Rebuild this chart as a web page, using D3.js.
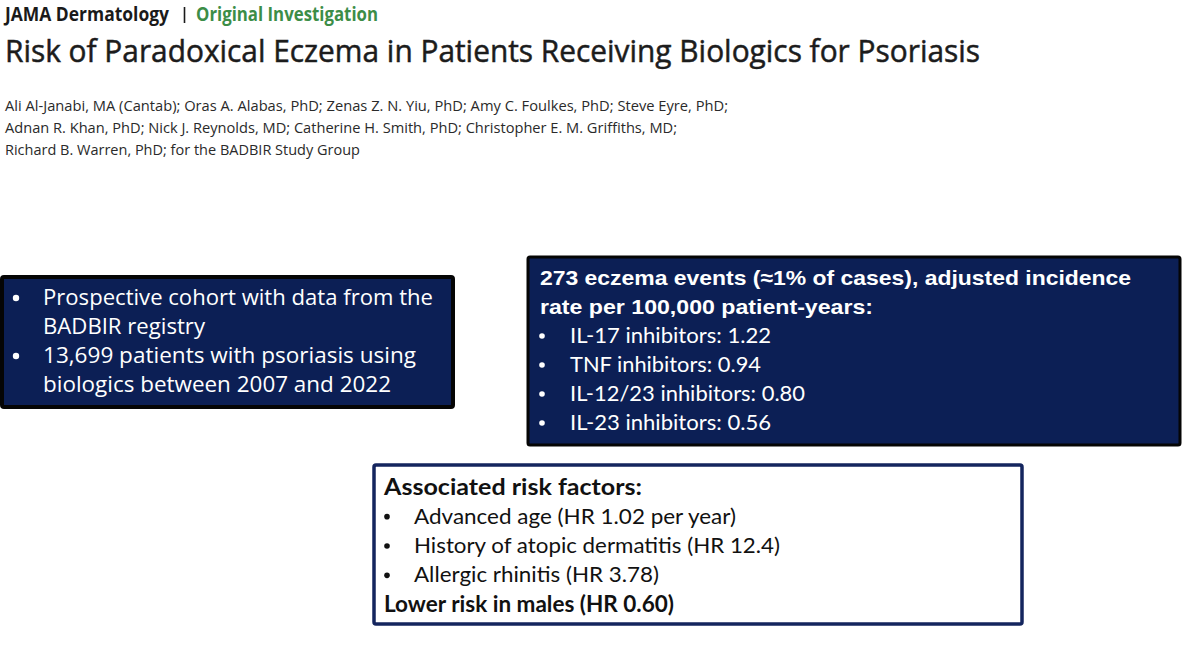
<!DOCTYPE html>
<html>
<head>
<meta charset="utf-8">
<script src="https://cdn.jsdelivr.net/npm/d3@7"></script>
<style>
  html, body { margin: 0; padding: 0; background: #fff; }
  svg { display: block; }
</style>
</head>
<body>
<div id="chart"></div>
<script>
// journal header
var journal = "JAMA Dermatology";
var section = "Original Investigation";
var title = "Risk of Paradoxical Eczema in Patients Receiving Biologics for Psoriasis";
var authors = [
  "Ali Al-Janabi, MA (Cantab); Oras A. Alabas, PhD; Zenas Z. N. Yiu, PhD; Amy C. Foulkes, PhD; Steve Eyre, PhD;",
  "Adnan R. Khan, PhD; Nick J. Reynolds, MD; Catherine H. Smith, PhD; Christopher E. M. Griffiths, MD;",
  "Richard B. Warren, PhD; for the BADBIR Study Group"
];

// study design box
var designLines = [
  { bullet: true,  text: "Prospective cohort with data from the" },
  { bullet: false, text: "BADBIR registry" },
  { bullet: true,  text: "13,699 patients with psoriasis using" },
  { bullet: false, text: "biologics between 2007 and 2022" }
];

// incidence box
var incidenceHeader = [
  "273 eczema events (\u22481% of cases), adjusted incidence",
  "rate per 100,000 patient-years:"
];
var drugClasses = ["IL-17 inhibitors", "TNF inhibitors", "IL-12/23 inhibitors", "IL-23 inhibitors"];
var incidenceRates = [1.22, 0.94, 0.80, 0.56];

// risk factor box
var riskHeader = "Associated risk factors:";
var riskFactors = ["Advanced age", "History of atopic dermatitis", "Allergic rhinitis"];
var riskHR = ["1.02 per year", "12.4", "3.78"];
var lowerRisk = { group: "males", hr: "0.60" };

var W = 1200, H = 652;
var navy = "#0c1f55";

var svg = d3.select("#chart").append("svg")
    .attr("width", W)
    .attr("height", H);

// squeeze / stretch a line so it ends where the reference does
function span(sel, w) {
  sel.attr("textLength", w).attr("lengthAdjust", "spacingAndGlyphs");
}

// ---- header ----
var head = svg.append("g").attr("font-family", "'Open Sans', sans-serif");
head.append("text")
    .attr("x", 5).attr("y", 21)
    .attr("font-size", 19).attr("font-weight", 700)
    .attr("fill", "#1a1a1a")
    .text(journal)
    .call(span, 164);
head.append("line")
    .attr("x1", 184.5).attr("x2", 184.5)
    .attr("y1", 7).attr("y2", 23)
    .attr("stroke", "#1a1a1a").attr("stroke-width", 1.6);
head.append("text")
    .attr("x", 196).attr("y", 21)
    .attr("font-size", 19).attr("font-weight", 700)
    .attr("fill", "#3c8d47")
    .text(section)
    .call(span, 182);

head.append("text")
    .attr("x", 5).attr("y", 62)
    .attr("font-size", 31)
    .attr("fill", "#1c1c1c")
    .attr("stroke", "#1c1c1c").attr("stroke-width", 0.5)
    .text(title)
    .call(span, 975);

var authorW = [723, 672, 355];
head.selectAll("text.author")
  .data(authors)
  .enter().append("text")
    .attr("class", "author")
    .attr("x", 5)
    .attr("y", function(d, i) { return 111 + i * 22; })
    .attr("font-size", 15)
    .attr("fill", "#2a2a2a")
    .text(function(d) { return d; })
    .each(function(d, i) { d3.select(this).call(span, authorW[i]); });

// ---- box 1: design ----
var b1 = svg.append("g");
b1.append("rect")
    .attr("x", 2).attr("y", 277)
    .attr("width", 451).attr("height", 130)
    .attr("rx", 2)
    .attr("fill", navy)
    .attr("stroke", "#050505").attr("stroke-width", 4);

var rows1 = b1.selectAll("g.row")
  .data(designLines)
  .enter().append("g")
    .attr("class", "row")
    .attr("transform", function(d, i) { return "translate(0," + (305 + i * 29) + ")"; });
rows1.filter(function(d) { return d.bullet; })
  .append("circle")
    .attr("cx", 16).attr("cy", -7).attr("r", 3.2)
    .attr("fill", "#fff");
var design1W = [390, 162, 373, 348];
rows1.append("text")
    .attr("x", 43)
    .attr("font-family", "'Open Sans', sans-serif")
    .attr("font-size", 21)
    .attr("fill", "#fff")
    .text(function(d) { return d.text; })
    .each(function(d, i) { d3.select(this).call(span, design1W[i]); });

// ---- box 2: incidence ----
var b2 = svg.append("g");
b2.append("rect")
    .attr("x", 528).attr("y", 257)
    .attr("width", 652).attr("height", 188)
    .attr("rx", 2)
    .attr("fill", navy)
    .attr("stroke", "#050505").attr("stroke-width", 3);

var headW = [591, 333];
b2.selectAll("text.hdr")
  .data(incidenceHeader)
  .enter().append("text")
    .attr("class", "hdr")
    .attr("x", 540)
    .attr("y", function(d, i) { return 285 + i * 29; })
    .attr("font-family", "'Liberation Sans', Arial, sans-serif")
    .attr("font-size", 21).attr("font-weight", 700)
    .attr("fill", "#fff")
    .text(function(d) { return d; })
    .each(function(d, i) { d3.select(this).call(span, headW[i]); });

var yInc = d3.scaleBand()
    .domain(drugClasses)
    .range([321.5, 437.5]);

var rows2 = b2.selectAll("g.drug")
  .data(drugClasses)
  .enter().append("g")
    .attr("class", "drug")
    .attr("transform", function(d) { return "translate(0," + (yInc(d) + yInc.bandwidth() / 2 + 7) + ")"; });
rows2.append("circle")
    .attr("cx", 542).attr("cy", -7).attr("r", 2.8)
    .attr("fill", "#fff");
var drugW = [201, 191, 235, 201];
rows2.append("text")
    .attr("x", 570)
    .attr("font-family", "Lato, sans-serif")
    .attr("font-size", 22)
    .attr("fill", "#fff")
    .text(function(d, i) { return d + ": " + d3.format(".2f")(incidenceRates[i]); })
    .each(function(d, i) { d3.select(this).call(span, drugW[i]); });

// ---- box 3: risk factors ----
var b3 = svg.append("g");
b3.append("rect")
    .attr("x", 374).attr("y", 465)
    .attr("width", 648).attr("height", 159)
    .attr("rx", 2)
    .attr("fill", "#fff")
    .attr("stroke", "#14255e").attr("stroke-width", 3.5);

b3.append("text")
    .attr("x", 384).attr("y", 495)
    .attr("font-family", "Lato, sans-serif")
    .attr("font-size", 22).attr("font-weight", 700)
    .attr("fill", "#111")
    .text(riskHeader)
    .call(span, 258);

var yRisk = d3.scaleBand()
    .domain(riskFactors)
    .range([502, 590]);

var rows3 = b3.selectAll("g.risk")
  .data(riskFactors)
  .enter().append("g")
    .attr("class", "risk")
    .attr("transform", function(d) { return "translate(0," + (yRisk(d) + yRisk.bandwidth() / 2 + 7) + ")"; });
rows3.append("circle")
    .attr("cx", 387).attr("cy", -7).attr("r", 2.8)
    .attr("fill", "#111");
var riskW = [322, 366, 245];
rows3.append("text")
    .attr("x", 414)
    .attr("font-family", "Lato, sans-serif")
    .attr("font-size", 22)
    .attr("fill", "#111")
    .text(function(d, i) { return d + " (HR " + riskHR[i] + ")"; })
    .each(function(d, i) { d3.select(this).call(span, riskW[i]); });

b3.append("text")
    .attr("x", 384).attr("y", 612)
    .attr("font-family", "Lato, sans-serif")
    .attr("font-size", 22).attr("font-weight", 700)
    .attr("fill", "#111")
    .text("Lower risk in " + lowerRisk.group + " (HR " + lowerRisk.hr + ")")
    .call(span, 290);
</script>
</body>
</html>
